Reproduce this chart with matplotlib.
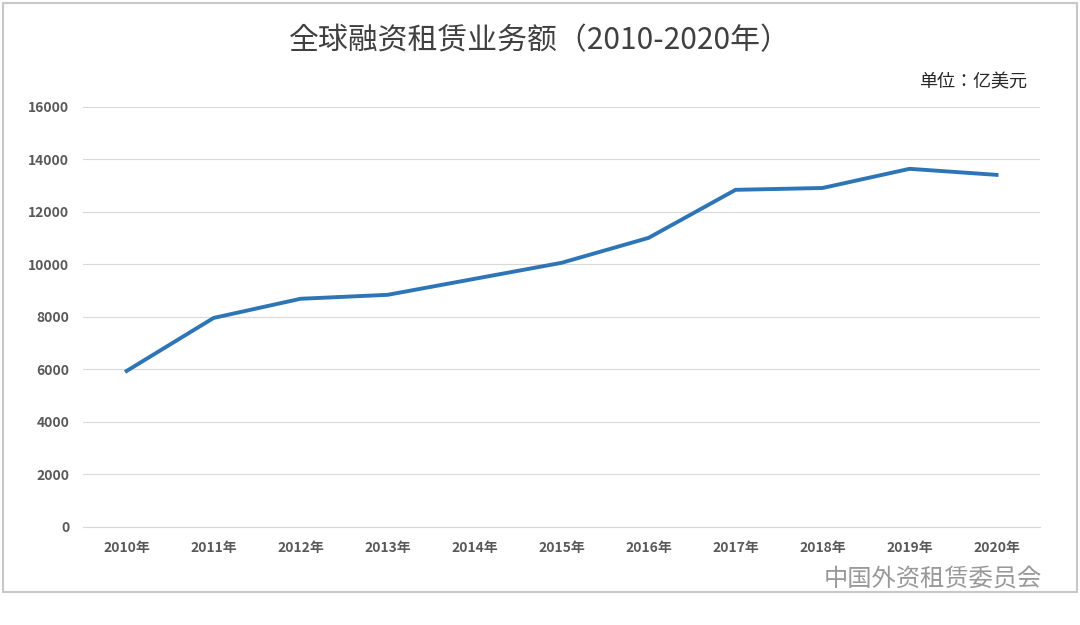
import matplotlib.pyplot as plt
from matplotlib import font_manager
from matplotlib.patches import Rectangle

cjk = [f.name for f in font_manager.fontManager.ttflist if 'CJK' in f.name]
cjk_name = next((n for n in cjk if 'SC' in n), cjk[0] if cjk else 'DejaVu Sans')
plt.rcParams['font.family'] = [cjk_name, 'DejaVu Sans']

years = ['2010年', '2011年', '2012年', '2013年', '2014年', '2015年',
         '2016年', '2017年', '2018年', '2019年', '2020年']
amounts = [5940, 7960, 8690, 8840, 9450, 10060, 11010, 12840, 12910, 13640, 13410]
y_ticks = list(range(0, 16001, 2000))

fig = plt.figure(figsize=(10.8, 6.25), dpi=100)
fig.patches.append(Rectangle((0.003, 0.053), 0.994, 0.942, transform=fig.transFigure,
                             fill=False, edgecolor='#c8c8c8', linewidth=1.5))
ax = fig.add_axes([0.077, 0.157, 0.886, 0.672])

x = range(len(years))
ax.plot(x, amounts, color='#2e75b6', linewidth=2.8)
ax.set_xlim(-0.5, len(years) - 0.5)
ax.set_ylim(0, 16000)
ax.set_yticks(y_ticks)
ax.set_xticks(list(x))
ax.set_xticklabels(years)
ax.grid(axis='y', color='#d9d9d9', linewidth=0.8)
ax.set_axisbelow(True)
for s in ['top', 'right', 'left']:
    ax.spines[s].set_visible(False)
ax.spines['bottom'].set_color('#d9d9d9')
ax.tick_params(length=0, labelsize=10, labelcolor='#595959', pad=10)
for lbl in ax.get_xticklabels() + ax.get_yticklabels():
    lbl.set_fontweight('bold')

fig.text(0.5, 0.935, '全球融资租赁业务额（2010-2020年）', ha='center', va='center',
         fontsize=21.5, color='#404040')
fig.text(0.951, 0.868, '单位：亿美元', ha='right', va='center', fontsize=13, color='#262626')
fig.text(0.965, 0.075, '中国外资租赁委员会', ha='right', va='center', fontsize=17.5, color='#999999')

fig.savefig('out.png', dpi=100)
plt.close()
